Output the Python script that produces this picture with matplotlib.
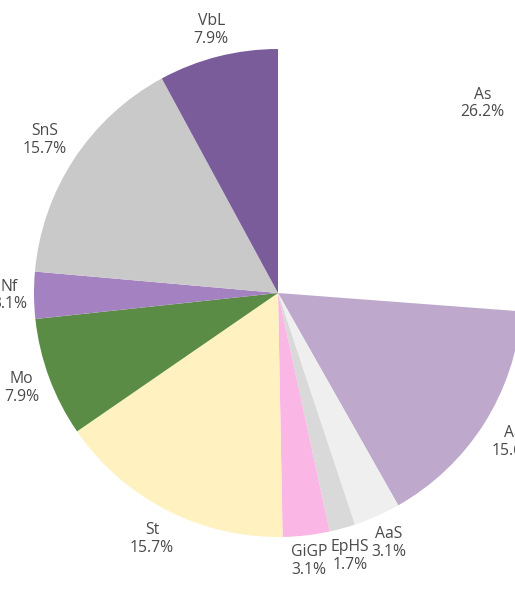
import numpy as np
import matplotlib
matplotlib.use("Agg")
import matplotlib.pyplot as plt

plt.rcParams['font.family'] = ['Open Sans', 'DejaVu Sans']

names = ['As', 'Aa', 'AaS', 'EpHS', 'GiGP', 'St', 'Mo', 'Nf', 'SnS', 'VbL']
shares = [26.2, 15.6, 3.1, 1.7, 3.1, 15.7, 7.9, 3.1, 15.7, 7.9]
colors = ['#ffffff', '#bea9cc', '#efefef', '#d9d9d9', '#fab6e4',
          '#fff1c0', '#5b8c46', '#a481c1', '#c9c9c9', '#7b5c9b']

fig = plt.figure(figsize=(5.15, 6.14), dpi=100)
ax = fig.add_axes([0, 0, 1, 1])

wedges, _ = ax.pie(shares, colors=colors, startangle=90, counterclock=False,
                   radius=1.0, wedgeprops=dict(linewidth=0))

# pie centre at (278, 293) px from top-left, radius 244 px
px = 244.0
ax.set_xlim(-278 / px, (515 - 278) / px)
ax.set_ylim(-(614 - 293) / px, 293 / px)
ax.set_aspect('auto')
ax.axis('off')

total = sum(shares)
labels = []
for name, v in zip(names, shares):
    t = ax.text(0, 0, f'{name}\n{v / total * 100:.1f}%', ha='center', va='center',
                fontsize=11.3, color='#4a4a4a', linespacing=1.15)
    labels.append(t)

# push each label out along the wedge's mid angle until its box clears the rim
fig.canvas.draw()
renderer = fig.canvas.get_renderer()
gap = 7 / px
for w, t in zip(wedges, labels):
    mid = np.deg2rad((w.theta1 + w.theta2) / 2)
    bb = t.get_window_extent(renderer)
    hw, hh = bb.width / 2 / px, bb.height / 2 / px
    r = 1 + gap + hw * abs(np.cos(mid)) + hh * abs(np.sin(mid))
    t.set_position((r * np.cos(mid), r * np.sin(mid)))

fig.savefig('out.png', dpi=100)
